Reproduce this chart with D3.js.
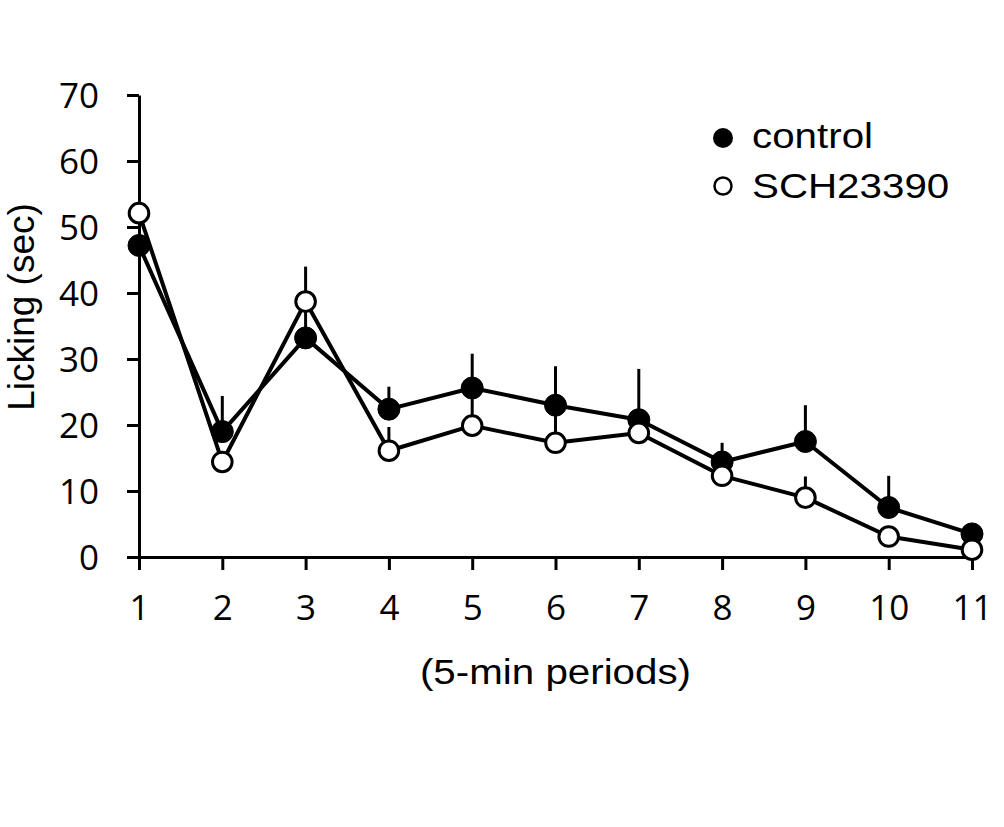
<!DOCTYPE html>
<html>
<head>
<meta charset="utf-8">
<script src="https://cdn.jsdelivr.net/npm/d3@7"></script>
<style>
  html, body { margin: 0; padding: 0; background: #fff; }
  svg { display: block; }
</style>
</head>
<body>
<script>
// ---- data ----
const periods = [1, 2, 3, 4, 5, 6, 7, 8, 9, 10, 11];
const controlMean = [47.2, 19.0, 33.2, 22.4, 25.6, 23.0, 20.8, 14.4, 17.5, 7.5, 3.5];
const controlErrTop = [null, 24.4, 38.0, 25.8, 30.8, 28.9, 28.5, 17.3, 23.0, 12.3, null];
const schMean = [52.1, 14.4, 38.7, 16.1, 19.9, 17.3, 18.8, 12.3, 9.0, 3.1, 1.1];
const schErrTop = [null, null, 44.0, 19.7, 24.0, 22.0, null, null, 12.2, null, null];
const yTicks = [0, 10, 20, 30, 40, 50, 60, 70];
const seriesNames = ["control", "SCH23390"];
const xTitle = "(5-min periods)";
const yTitle = "Licking (sec)";

const W = 1004, H = 827;
const svg = d3.select("body").append("svg").attr("width", W).attr("height", H);

const x = d3.scaleLinear().domain([1, 11]).range([139, 972]);
const y = d3.scaleLinear().domain([0, 70]).range([557, 95]);

const tickFont = "'Open Sans', sans-serif";
const labelFont = "'Liberation Sans', Arial, sans-serif";

// axes
const yAxis = d3.axisLeft(y).tickValues(yTicks).tickSize(12).tickSizeOuter(0).tickPadding(28).tickFormat(d3.format("d"));
const xAxis = d3.axisBottom(x).tickValues(periods).tickSize(13).tickSizeOuter(0).tickPadding(25).tickFormat(d3.format("d"));

const gy = svg.append("g").attr("transform", "translate(139,0)").call(yAxis);
const gx = svg.append("g").attr("transform", "translate(0,557)").call(xAxis);
[gx, gy].forEach(g => {
  g.selectAll("path.domain").attr("stroke", "#000").attr("stroke-width", 3);
  g.selectAll(".tick line").attr("stroke", "#000").attr("stroke-width", 3);
  g.selectAll(".tick text").attr("font-family", tickFont).attr("font-size", 35).attr("fill", "#000");
});
gy.selectAll(".tick text").attr("dy", "0.36em");

// error bars (upward)
function errBars(mean, top) {
  const d = periods.map((p, i) => ({p, m: mean[i], t: top[i]})).filter(o => o.t != null);
  svg.append("g").selectAll("line").data(d).join("line")
    .attr("x1", o => x(o.p)).attr("x2", o => x(o.p))
    .attr("y1", o => y(o.m)).attr("y2", o => y(o.t))
    .attr("stroke", "#000").attr("stroke-width", 3);
}
errBars(controlMean, controlErrTop);
errBars(schMean, schErrTop);

const line = d3.line().x((d, i) => x(periods[i])).y(d => y(d));
svg.append("path").datum(controlMean).attr("d", line)
  .attr("fill", "none").attr("stroke", "#000").attr("stroke-width", 4).attr("stroke-linejoin", "round");
svg.append("path").datum(schMean).attr("d", line)
  .attr("fill", "none").attr("stroke", "#000").attr("stroke-width", 4).attr("stroke-linejoin", "round");

svg.append("g").selectAll("circle").data(controlMean).join("circle")
  .attr("cx", (d, i) => x(periods[i])).attr("cy", d => y(d)).attr("r", 11)
  .attr("fill", "#000").attr("stroke", "#000").attr("stroke-width", 1);
svg.append("g").selectAll("circle").data(schMean).join("circle")
  .attr("cx", (d, i) => x(periods[i])).attr("cy", d => y(d)).attr("r", 9.8)
  .attr("fill", "#fff").attr("stroke", "#000").attr("stroke-width", 3);

// titles
svg.append("text").attr("transform", "translate(555.5,684) scale(1.12,1)")
  .attr("text-anchor", "middle").attr("font-family", labelFont).attr("font-size", 36).attr("fill", "#000")
  .text(xTitle);
svg.append("text").attr("transform", "translate(34,307) rotate(-90)")
  .attr("text-anchor", "middle").attr("font-family", labelFont).attr("font-size", 37).attr("fill", "#000")
  .text(yTitle);

// legend
const leg = svg.append("g");
leg.append("circle").attr("cx", 723).attr("cy", 138).attr("r", 10).attr("fill", "#000");
leg.append("circle").attr("cx", 723).attr("cy", 186).attr("r", 8.5).attr("fill", "#fff").attr("stroke", "#000").attr("stroke-width", 2.5);
leg.selectAll("text").data(seriesNames).join("text")
  .attr("transform", (d, i) => `translate(752,${148 + i * 50}) scale(1.12,1)`)
  .attr("font-family", labelFont).attr("font-size", 36).attr("fill", "#000")
  .text(d => d);
</script>
</body>
</html>
